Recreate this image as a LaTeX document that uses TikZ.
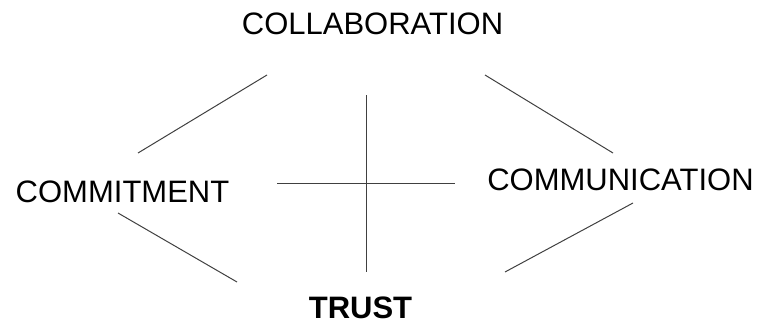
\documentclass[tikz,border=0pt]{standalone}
\usepackage{fontspec}
\setmainfont{Liberation Sans}
\begin{document}
\begin{tikzpicture}[x=1pt,y=-1pt,
  label/.style={anchor=base,inner sep=0pt,font=\fontsize{31}{37}\selectfont},
  link/.style={line width=1pt,draw=black!75}]
\useasboundingbox (0,0) rectangle (760,321);
% four concepts
\node[label] (collab) at (372.5,35) {COLLABORATION};
\node[label] (commit) at (122.5,202) {COMMITMENT};
\node[label] (commun) at (620.5,190) {COMMUNICATION};
\node[label,font=\fontsize{31}{37}\selectfont\bfseries] (trust) at (360.5,318.5) {TRUST};
% line ends
\coordinate (tlA) at (138,153);  \coordinate (tlB) at (267,75);
\coordinate (trA) at (485,75);   \coordinate (trB) at (613,153);
\coordinate (blA) at (118,213);  \coordinate (blB) at (237,282);
\coordinate (brA) at (505,272);  \coordinate (brB) at (633,203);
\coordinate (vA) at (366,95);    \coordinate (vB) at (366,272);
\coordinate (hA) at (277,183);   \coordinate (hB) at (455,183);
% sides of the diamond
\draw[link] (tlA) -- (tlB);
\draw[link] (trA) -- (trB);
\draw[link] (blA) -- (blB);
\draw[link] (brA) -- (brB);
% central cross
\draw[link] (vA) -- (vB);
\draw[link] (hA) -- (hB);
\end{tikzpicture}
\end{document}
